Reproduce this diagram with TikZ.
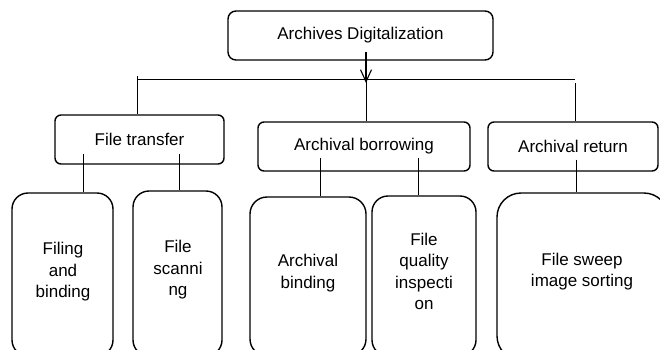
\documentclass[tikz,border=0pt]{standalone}
\usepackage{fontspec}
\setmainfont{Liberation Sans}
\usetikzlibrary{arrows.meta}
\newcommand\diagfont{\fontsize{17}{21.5}\selectfont}
\begin{document}
\begin{tikzpicture}[x=1pt,y=-1pt,
  box/.style={draw,line width=1.4pt,rounded corners=6pt,inner sep=0pt,align=center,font=\diagfont},
  tallbox/.style={draw,line width=1.4pt,rounded corners=16pt,inner sep=0pt},
  txt/.style={inner sep=0pt,align=center,font=\diagfont},
  conn/.style={draw,line width=0.8pt}]
\useasboundingbox (0,0) rectangle (660,349);
\clip (0,0) rectangle (660,349);
% top
\node[box,rounded corners=8pt,minimum width=265pt,minimum height=49pt] (top) at (360.5,35.5) {Archives Digitalization};
% second level
\node[box,minimum width=169pt,minimum height=49pt] (ft) at (139.5,139.5) {File transfer};
\node[box,minimum width=212pt,minimum height=49pt] (ab) at (364,146.5) {Archival borrowing};
\node[box,minimum width=170pt,minimum height=49pt] (ar) at (573,146.5) {Archival return};
% third level boxes
\node[tallbox,minimum width=101pt,minimum height=163pt] (fb) at (62.5,274.5) {};
\node[tallbox,minimum width=89pt,minimum height=165pt] (fs) at (177.5,273.5) {};
\node[tallbox,rounded corners=17pt,minimum width=116pt,minimum height=159pt] (abd) at (308,276.5) {};
\node[tallbox,minimum width=104pt,minimum height=160pt] (fq) at (424,276) {};
\node[tallbox,rounded corners=24pt,minimum width=171pt,minimum height=167pt] (fsw) at (582.5,276.5) {};
% third level texts
\node[txt] (fbt) at (63,272) {Filing\\and\\binding};
\node[txt] (fst) at (178,270) {File\\scanni\\ng};
\node[txt] (abdt) at (308,273) {Archival\\binding};
\node[txt] (fqt) at (424,271.5) {File\\quality\\inspecti\\on};
\node[txt] (fswt) at (582,271.5) {File sweep\\image sorting};
% bus
\coordinate (busL) at (137,79);
\coordinate (busM) at (366,79);
\coordinate (busR) at (575,79);
\coordinate (busRd) at (575,83);
\draw[conn] (busL) -- (busR);
\draw[conn,line width=1.2pt,-{Straight Barb[length=12pt,width=11pt,line width=1.1pt]}] ([xshift=5.5pt,yshift=9pt]top.south) -- ([yshift=-4pt]busM);
\draw[conn] ([yshift=3pt]busL) -- (busL |- ft.north);
\draw[conn] (busM) -- (busM |- ab.north);
\draw[conn] (busRd) -- (busRd |- ar.north);
% level 2 to level 3
\draw[conn] ([xshift=-56.5pt,yshift=11pt]ft.south) -- ([xshift=20.5pt]fb.north);
\draw[conn] ([xshift=39.5pt,yshift=11pt]ft.south) -- ([xshift=1.5pt]fs.north);
\draw[conn] ([xshift=-44pt,yshift=14pt]ab.south) -- ([xshift=12pt]abd.north);
\draw[conn] ([xshift=54pt,yshift=14pt]ab.south) -- ([xshift=-6pt]fq.north);
\draw[conn] ([xshift=3pt,yshift=12pt]ar.south) -- ([xshift=-6.5pt]fsw.north);
\end{tikzpicture}
\end{document}
